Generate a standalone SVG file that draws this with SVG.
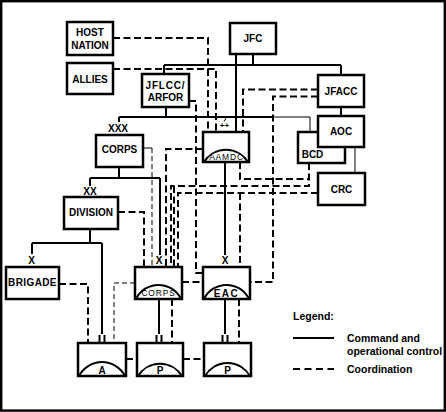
<svg xmlns="http://www.w3.org/2000/svg" width="446" height="412" viewBox="0 0 446 412">
<style>
.box{fill:#fff;stroke:#000;stroke-width:2.5}
.arc{fill:none;stroke:#000;stroke-width:2}
.c{fill:none;stroke:#000;stroke-width:2}
.t1{fill:none;stroke:#000;stroke-width:1}
.d{fill:none;stroke:#000;stroke-width:2;stroke-dasharray:7 3.5}
.td{fill:none;stroke:#000;stroke-width:1;stroke-dasharray:5 3}
text{font-family:"Liberation Sans",Arial,sans-serif;font-weight:bold;font-size:10px;text-anchor:middle;fill:#000}
.sm{font-weight:normal;font-size:8.5px;letter-spacing:0.8px}
.lg{font-size:10.5px;text-anchor:start}
</style>
<rect width="446" height="412" fill="#fff"/>
<g id="connectors">
<!-- command -->
<path class="c" d="M253,54V65M164,65H341M164,65V74M341,65V75"/>
<path class="c" d="M236,54V132"/>
<path class="c" d="M166,107V117M119,117H273M119,117V122"/>
<path class="t1" d="M273,117H310V132"/>
<path class="c" d="M341,107V116"/>
<path class="t1" d="M355,147V173"/>
<path class="c" d="M119,167V178M90,178H160M90,178V186M160,178V255"/>
<path class="c" d="M90,229V243M32,243H102M32,243V254M102,243V334M99.5,335V343M104.5,335V343"/>
<path class="c" d="M225,162V255"/>
<path class="c" d="M159,299V334M156.5,335V343M161.5,335V343"/>
<path class="c" d="M225,299V334M222.5,335V343M227.5,335V343"/>
<path class="t1" d="M224,121.5L226,118"/>
<!-- coordination -->
<path class="d" d="M113,38H208V132"/>
<path class="d" d="M113,69H216V132"/>
<path class="d" d="M318,89.5H243V132"/>
<path class="d" d="M318,96.5H273V282H250"/>
<path class="d" d="M189,101H196V273H203"/>
<path class="d" d="M203,149H166V267"/>
<path class="d" d="M240,162V179H309"/>
<path class="d" d="M309,163V186H171V267"/>
<path class="d" d="M174,186V267"/>
<path class="d" d="M318,193H178V267"/>
<path class="d" d="M240,193V267"/>
<path class="d" d="M118,212H144V267"/>
<path class="d" d="M59,284H88V343"/>
<path class="d" d="M182,282H203"/>
<path class="d" d="M126,359H137M183,359H204"/>
<path class="d" d="M172,299V343"/>
<path class="d" d="M239,299V343"/>
<path class="t1" d="M143,148H152"/>
<path class="td" d="M152,148V267"/>
<path class="td" d="M135,283H114V343"/>
</g>
<g id="host-nation"><rect class="box" x="67" y="22" width="46" height="33"/><text x="90" y="36">HOST</text><text x="90" y="48.5">NATION</text></g>
<g id="allies"><rect class="box" x="67" y="63" width="46" height="31"/><text x="90" y="82.5">ALLIES</text></g>
<g id="jflcc"><rect class="box" x="142" y="74" width="47" height="33"/><text x="165.5" y="88.5" style="letter-spacing:0.8px">JFLCC/</text><text x="165.5" y="100.5">ARFOR</text></g>
<g id="jfc"><rect class="box" x="230" y="23" width="46" height="31"/><text x="253" y="42">JFC</text></g>
<g id="jfacc"><rect class="box" x="318" y="75" width="46" height="32"/><text x="341" y="95">JFACC</text></g>
<g id="bcd"><rect class="box" x="298" y="132" width="47" height="31"/><text x="312.5" y="158">BCD</text></g>
<g id="aoc"><rect class="box" x="318" y="116" width="46" height="31"/><text x="341" y="135">AOC</text></g>
<g id="crc"><rect class="box" x="318" y="173" width="47" height="32"/><text x="341.5" y="193">CRC</text></g>
<g id="aamdc"><rect class="box" x="203" y="132" width="46" height="30"/><path class="arc" d="M204,162A26,26 0 0 1 248,162"/><text class="sm" x="226.5" y="159.5">AAMDC</text></g>
<g id="corps-xxx"><rect class="box" x="96" y="135" width="47" height="32"/><text x="119.5" y="153">CORPS</text></g>
<g id="division"><rect class="box" x="64" y="197" width="54" height="32"/><text x="91" y="216">DIVISION</text></g>
<g id="brigade"><rect class="box" x="6" y="267" width="53" height="32"/><text x="32.5" y="286" style="letter-spacing:0.4px">BRIGADE</text></g>
<g id="corps-ada"><rect class="box" x="135" y="267" width="47" height="32"/><path class="arc" d="M136,299A25,25 0 0 1 181,299"/><text class="sm" x="158.5" y="295.5">CORPS</text></g>
<g id="eac"><rect class="box" x="203" y="267" width="47" height="32"/><path class="arc" d="M204,299A25,25 0 0 1 249,299"/><text x="226.5" y="297" style="letter-spacing:1.5px">EAC</text></g>
<g id="bn-a"><rect class="box" x="78" y="343" width="48" height="33"/><path class="arc" d="M79,376A26,26 0 0 1 125,376"/><text x="102" y="373.5">A</text></g>
<g id="bn-p1"><rect class="box" x="137" y="343" width="46" height="33"/><path class="arc" d="M138,376A26,26 0 0 1 182,376"/><text x="160" y="373.5">P</text></g>
<g id="bn-p2"><rect class="box" x="204" y="343" width="47" height="33"/><path class="arc" d="M205,376A26,26 0 0 1 250,376"/><text x="227.5" y="373.5">P</text></g>
<g id="echelons">
<text x="118" y="131.5">XXX</text>
<text x="90" y="195">XX</text>
<text x="31.5" y="264">X</text>
<text x="159" y="264">X</text>
<text x="225" y="264">X</text>
<text x="224.5" y="128" style="font-size:8px">++</text>
</g>
<g id="legend">
<text class="lg" x="293" y="320">Legend:</text>
<path class="c" d="M293,338H334"/>
<text class="lg" x="347" y="341.5">Command and</text>
<text class="lg" x="347" y="354.5">operational control</text>
<path class="d" d="M293,369H334" style="stroke-dasharray:7 4.5"/>
<text class="lg" x="347" y="372.5">Coordination</text>
</g>
<rect x="1.2" y="1.2" width="443.6" height="409.4" fill="none" stroke="#000" stroke-width="2.4"/>
</svg>
